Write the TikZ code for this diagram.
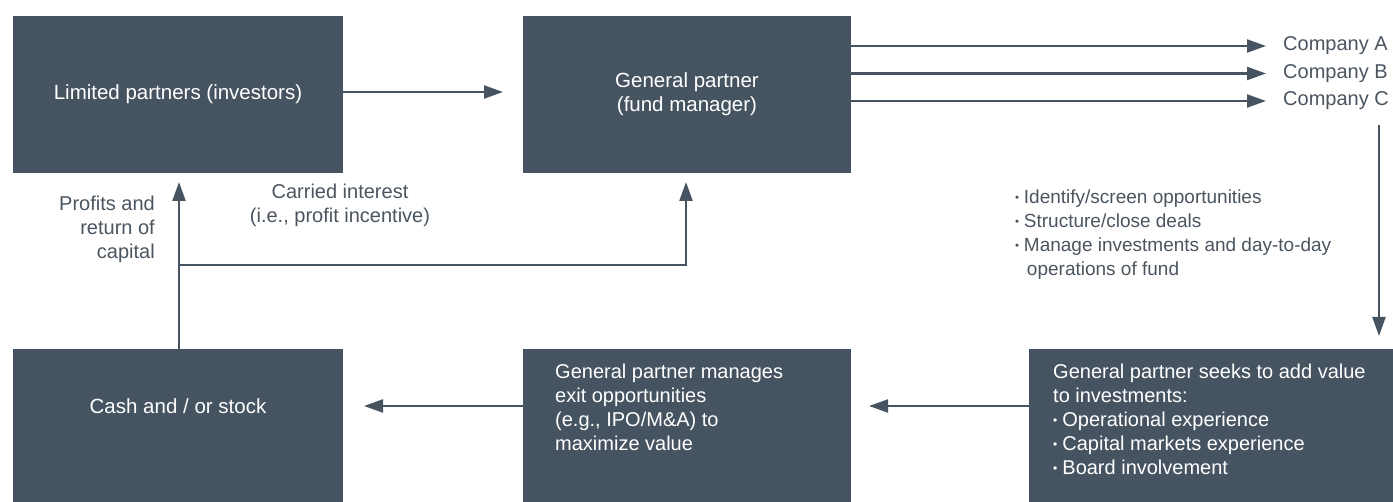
\documentclass[tikz,border=0pt]{standalone}
\usepackage{fontspec}
\setmainfont{Liberation Sans}
\usepackage{graphicx}
\usetikzlibrary{arrows.meta}
\definecolor{slate}{RGB}{70,84,97}
\definecolor{txt}{RGB}{74,85,96}
\newcommand{\bul}{\raisebox{0.12em}{\scalebox{0.6}{•}}\hspace{0.25em}}
\begin{document}
\begin{tikzpicture}[x=1pt,y=-1pt,
  box/.style={fill=slate, draw=none, text=white, inner sep=0pt, outer sep=0pt,
    font=\fontsize{20.5}{24}\selectfont, align=center},
  intext/.style={text=white, inner sep=0pt, font=\fontsize{20}{24}\selectfont, align=left},
  lbl/.style={text=txt, inner sep=0pt, font=\fontsize{20}{24}\selectfont},
  arr/.style={draw=slate, line width=2.2pt, -{Triangle[length=19pt,width=13pt]}},
  ln/.style={draw=slate, line width=2.2pt}]
\useasboundingbox (0,0) rectangle (1393,502);
% boxes
\node[box, minimum width=330pt, minimum height=157pt] (lp) at (178,94.5) {Limited partners (investors)};
\node[box, minimum width=328pt, minimum height=157pt] (gp) at (687,94.5) {General partner\\(fund manager)};
\node[box, minimum width=330pt, minimum height=153pt] (cash) at (178,425.5) {};
\node[box, minimum width=328pt, minimum height=153pt] (exit) at (687,425.5) {};
\node[box, minimum width=364pt, minimum height=153pt] (value) at (1211,425.5) {};
% inner texts
\node[box, anchor=center] (casht) at (178,406) {Cash and / or stock};
\node[intext, anchor=north west] (exitt) at (555,364) {General partner manages\\exit opportunities\\(e.g., IPO/M\&A) to\\maximize value};
\node[intext, anchor=north west] (valuet) at (1053,364) {General partner seeks to add value\\to investments:\\\bul Operational experience\\\bul Capital markets experience\\\bul Board involvement};
% companies
\node[lbl, anchor=west] (ca) at (1283,46) {Company A};
\node[lbl, anchor=west] (cb) at (1283,73.5) {Company B};
\node[lbl, anchor=west] (cc) at (1283,101) {Company C};
\draw[arr] (gp.east |- ca) -- ([xshift=-17pt]ca.west);
\draw[arr] (gp.east |- cb) -- ([xshift=-17pt]cb.west);
\draw[arr] (gp.east |- cc) -- ([xshift=-17pt]cc.west);
% LP -> GP
\coordinate (gpin) at ([xshift=-20pt]gp.west);
\draw[arr] (lp.east |- 0,92) -- (gpin |- 0,92);
% down arrow
\coordinate (dtop) at (1379,125);
\coordinate (dbot) at (1379,336);
\draw[arr] (dtop) -- (dbot);
% bullets
\node[lbl, anchor=north west, align=left, font=\fontsize{19}{24}\selectfont] (tasks) at (1015,190)
  {\bul Identify/screen opportunities\\\bul Structure/close deals\\\bul Manage investments and day-to-day\\\hspace{0.62em}operations of fund};
% bottom arrows
\coordinate (vout) at (1029,406);
\coordinate (ein) at (869,406);
\coordinate (eout) at (523,406);
\coordinate (cin) at (364,406);
\draw[arr] (vout) -- (ein);
\draw[arr] (eout) -- (cin);
% returns
\coordinate (cashtop) at (179,349);
\coordinate (lpin) at (179,182);
\coordinate (split) at (179,265);
\coordinate (gpup) at (686,182);
\coordinate (gpturn) at (686,265);
\draw[arr] (cashtop) -- (lpin);
\draw[ln] (split) -- (gpturn);
\draw[arr] ([yshift=-1.1pt]gpturn) -- (gpup);
\node[lbl, anchor=north east, align=right] (prof) at (155,196) {Profits and\\return of\\capital};
\node[lbl, anchor=north, align=center] (carry) at (340,184) {Carried interest\\(i.e., profit incentive)};
\end{tikzpicture}
\end{document}
